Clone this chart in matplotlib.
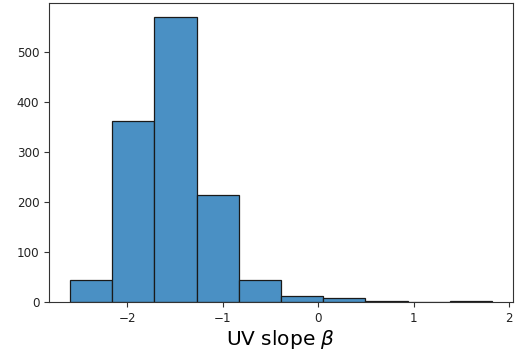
import numpy as np
import matplotlib.pyplot as plt

# histogram of UV slopes, counts
bin_edges = np.linspace(-2.6, 1.82, 11)
counts = [44, 362, 569, 214, 44, 12, 8, 3, 0, 2]
xticks = [-2, -1, 0, 1, 2]
yticks = [0, 100, 200, 300, 400, 500]

fig = plt.figure(figsize=(5.19, 3.6), dpi=100)
ax = fig.add_axes([0.0944, 0.1611, 0.894, 0.8306])

ax.hist(bin_edges[:-1], bins=bin_edges, weights=counts,
        color='#4a90c4', edgecolor='#1a1a1a', linewidth=0.9)

ax.set_xticks(xticks)
ax.set_yticks(yticks)
ax.tick_params(labelsize=8.6, colors='#333333', labelcolor='#222222')
for s in ax.spines.values():
    s.set_color('#333333')
ax.set_xlabel(r'UV slope $\beta$', fontsize=14.5, labelpad=2)

fig.savefig('out.png', dpi=100)
